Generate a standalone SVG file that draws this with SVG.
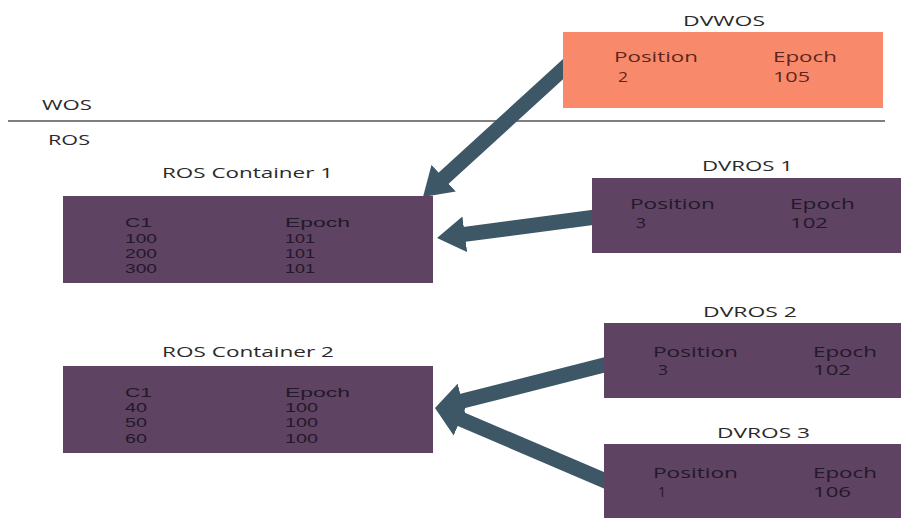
<svg xmlns="http://www.w3.org/2000/svg" width="901" height="518" viewBox="0 0 901 518">
  <defs>
    <style>
      text { font-family: "Open Sans", "Liberation Sans", sans-serif; font-size: 14px; }
      .title { fill: #2a2a2a; }
      .ros { fill: #5e4362; }
      .wos { fill: #f88a6b; }
      .in-ros { fill: #24182a; }
      .row { fill: #24182a; font-family: "Liberation Sans", Arial, sans-serif; font-size: 13px; }
      .in-wos { fill: #5c2620; }
      .link { stroke: #3d5766; stroke-width: 15; fill: none; marker-end: url(#head); }
    </style>
    <marker id="head" markerUnits="userSpaceOnUse" viewBox="0 0 28 36" markerWidth="28" markerHeight="36" refX="12" refY="18" orient="auto">
      <path d="M0,0 L28,18 L0,36 z" fill="#3d5766"/>
    </marker>
  </defs>
  <rect width="901" height="518" fill="#ffffff"/>

  <!-- WOS / ROS divider -->
  <line x1="8" y1="121" x2="885" y2="121" stroke="#555555" stroke-width="1.5"/>
  <text class="title" x="42" y="110" textLength="50" lengthAdjust="spacingAndGlyphs">WOS</text>
  <text class="title" x="48" y="145" textLength="42" lengthAdjust="spacingAndGlyphs">ROS</text>

  <!-- connectors -->
  <g id="connectors">
    <line class="link" x1="584" y1="50" x2="434.8" y2="186.2"/>
    <line class="link" x1="596" y1="217" x2="452.9" y2="235.9"/>
    <line class="link" x1="608" y1="364" x2="450.5" y2="404.1"/>
    <line class="link" x1="608" y1="482" x2="449.7" y2="414.3"/>
  </g>

  <!-- delete vector in WOS -->
  <g id="dvwos">
    <text class="title" x="683" y="26" textLength="82" lengthAdjust="spacingAndGlyphs">DVWOS</text>
    <rect class="wos" x="563" y="32" width="320" height="76"/>
    <text class="in-wos" x="614" y="62" textLength="84" lengthAdjust="spacingAndGlyphs">Position</text>
    <text class="in-wos" x="618" y="82" textLength="10" lengthAdjust="spacingAndGlyphs">2</text>
    <text class="in-wos" x="773" y="62" textLength="64" lengthAdjust="spacingAndGlyphs">Epoch</text>
    <text class="in-wos" x="773" y="82" textLength="37" lengthAdjust="spacingAndGlyphs">105</text>
  </g>

  <!-- ROS container 1 -->
  <g id="ros-container-1">
    <text class="title" x="162" y="178" textLength="171" lengthAdjust="spacingAndGlyphs">ROS Container 1</text>
    <rect class="ros" x="63" y="196" width="370" height="87"/>
    <text class="row" x="125" y="227" textLength="27" lengthAdjust="spacingAndGlyphs">C1</text>
    <text class="row" x="125" y="243" textLength="32" lengthAdjust="spacingAndGlyphs">100</text>
    <text class="row" x="125" y="258" textLength="32" lengthAdjust="spacingAndGlyphs">200</text>
    <text class="row" x="125" y="273" textLength="32" lengthAdjust="spacingAndGlyphs">300</text>
    <text class="row" x="285" y="227" textLength="65" lengthAdjust="spacingAndGlyphs">Epoch</text>
    <text class="row" x="285" y="243" textLength="30" lengthAdjust="spacingAndGlyphs">101</text>
    <text class="row" x="285" y="258" textLength="30" lengthAdjust="spacingAndGlyphs">101</text>
    <text class="row" x="285" y="273" textLength="30" lengthAdjust="spacingAndGlyphs">101</text>
  </g>

  <!-- ROS container 2 -->
  <g id="ros-container-2">
    <text class="title" x="162" y="357" textLength="172" lengthAdjust="spacingAndGlyphs">ROS Container 2</text>
    <rect class="ros" x="63" y="366" width="370" height="87"/>
    <text class="row" x="125" y="397" textLength="27" lengthAdjust="spacingAndGlyphs">C1</text>
    <text class="row" x="125" y="412" textLength="22" lengthAdjust="spacingAndGlyphs">40</text>
    <text class="row" x="125" y="427" textLength="22" lengthAdjust="spacingAndGlyphs">50</text>
    <text class="row" x="125" y="443" textLength="22" lengthAdjust="spacingAndGlyphs">60</text>
    <text class="row" x="285" y="397" textLength="65" lengthAdjust="spacingAndGlyphs">Epoch</text>
    <text class="row" x="285" y="412" textLength="33" lengthAdjust="spacingAndGlyphs">100</text>
    <text class="row" x="285" y="427" textLength="33" lengthAdjust="spacingAndGlyphs">100</text>
    <text class="row" x="285" y="443" textLength="33" lengthAdjust="spacingAndGlyphs">100</text>
  </g>

  <!-- delete vectors in ROS -->
  <g id="dvros-1">
    <text class="title" x="702" y="171" textLength="91" lengthAdjust="spacingAndGlyphs">DVROS 1</text>
    <rect class="ros" x="592" y="178" width="309" height="75"/>
    <text class="in-ros" x="630" y="209" textLength="85" lengthAdjust="spacingAndGlyphs">Position</text>
    <text class="in-ros" x="636" y="228" textLength="10" lengthAdjust="spacingAndGlyphs">3</text>
    <text class="in-ros" x="790" y="209" textLength="65" lengthAdjust="spacingAndGlyphs">Epoch</text>
    <text class="in-ros" x="790" y="228" textLength="38" lengthAdjust="spacingAndGlyphs">102</text>
  </g>

  <g id="dvros-2">
    <text class="title" x="703" y="317" textLength="94" lengthAdjust="spacingAndGlyphs">DVROS 2</text>
    <rect class="ros" x="604" y="323" width="297" height="75"/>
    <text class="in-ros" x="653" y="357" textLength="85" lengthAdjust="spacingAndGlyphs">Position</text>
    <text class="in-ros" x="658" y="375" textLength="10" lengthAdjust="spacingAndGlyphs">3</text>
    <text class="in-ros" x="813" y="357" textLength="64" lengthAdjust="spacingAndGlyphs">Epoch</text>
    <text class="in-ros" x="813" y="375" textLength="38" lengthAdjust="spacingAndGlyphs">102</text>
  </g>

  <g id="dvros-3">
    <text class="title" x="717" y="438" textLength="93" lengthAdjust="spacingAndGlyphs">DVROS 3</text>
    <rect class="ros" x="604" y="444" width="297" height="74"/>
    <text class="in-ros" x="653" y="478" textLength="85" lengthAdjust="spacingAndGlyphs">Position</text>
    <text class="in-ros" x="658" y="497" textLength="8" lengthAdjust="spacingAndGlyphs">1</text>
    <text class="in-ros" x="813" y="478" textLength="64" lengthAdjust="spacingAndGlyphs">Epoch</text>
    <text class="in-ros" x="813" y="497" textLength="38" lengthAdjust="spacingAndGlyphs">106</text>
  </g>
</svg>
